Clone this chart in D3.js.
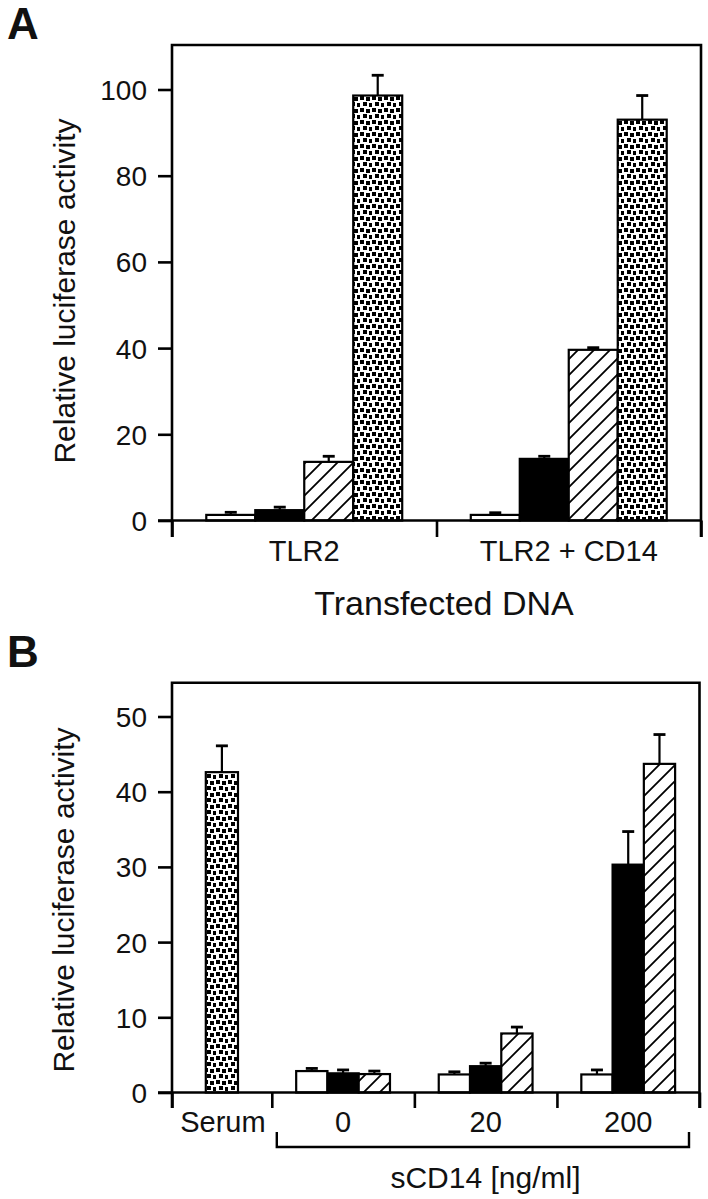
<!DOCTYPE html>
<html>
<head>
<meta charset="utf-8">
<script src="https://cdn.jsdelivr.net/npm/d3@7"></script>
<style>
  html, body { margin: 0; padding: 0; background: #fff; }
  svg { display: block; }
  text { font-family: "Liberation Sans", Arial, Helvetica, sans-serif; fill: #111; }
</style>
</head>
<body>
<script>
// ---------------- DATA ----------------
// Panel A
const groupsA = ["TLR2", "TLR2 + CD14"];
const seriesA = ["white", "black", "hatched", "dotted"];
const valuesA_TLR2 = [1.3, 2.4, 13.6, 98.6];
const errorsA_TLR2 = [0.6, 0.7, 1.3, 4.7];
const valuesA_TLR2CD14 = [1.3, 14.3, 39.6, 93.0];
const errorsA_TLR2CD14 = [0.5, 0.6, 0.5, 5.6];
const ticksA = [0, 20, 40, 60, 80, 100];

// Panel B
const groupsB = ["Serum", "0", "20", "200"];
const seriesB_serum = ["dotted"];
const seriesB_sCD14 = ["white", "black", "hatched"];
const valuesB_serum = [42.6];
const errorsB_serum = [3.5];
const valuesB_0 = [2.85, 2.55, 2.45];
const errorsB_0 = [0.35, 0.45, 0.4];
const valuesB_20 = [2.4, 3.5, 7.85];
const errorsB_20 = [0.35, 0.4, 0.85];
const valuesB_200 = [2.4, 30.3, 43.7];
const errorsB_200 = [0.6, 4.4, 3.9];
const ticksB = [0, 10, 20, 30, 40, 50];

// ---------------- SETUP ----------------
const W = 708, H = 1199;
const svg = d3.select("body").append("svg").attr("width", W).attr("height", H);
const defs = svg.append("defs");

// dotted pattern (staggered small black squares)
const dots = defs.append("pattern").attr("id", "dots")
  .attr("patternUnits", "userSpaceOnUse").attr("width", 12).attr("height", 12);
dots.append("rect").attr("width", 12).attr("height", 12).attr("fill", "#fff");
[[0, 0], [6, 1], [3, 6], [9, 7]].forEach(([x, y]) => {
  dots.append("rect").attr("x", x).attr("y", y).attr("width", 4).attr("height", 4)
    .attr("fill", "#000").attr("shape-rendering", "crispEdges");
});

// hatch pattern "/"
const hatch = defs.append("pattern").attr("id", "hatch")
  .attr("patternUnits", "userSpaceOnUse").attr("width", 16).attr("height", 16);
hatch.append("rect").attr("width", 16).attr("height", 16).attr("fill", "#fff");
hatch.append("path").attr("d", "M-2,2 L2,-2 M0,16 L16,0 M14,18 L18,14")
  .attr("stroke", "#000").attr("stroke-width", 1.8);

const fillFor = {white: "#fff", black: "#000", hatched: "url(#hatch)", dotted: "url(#dots)"};

function drawBars(g, groupName, series, values, errors, xGroupStart, groupWidth, padOuter, y) {
  const inner = d3.scaleBand().domain(series).range([xGroupStart, xGroupStart + groupWidth])
    .paddingInner(0).paddingOuter(padOuter);
  const data = series.map((s, i) => ({s, v: values[i], e: errors[i]}));
  const gg = g.append("g").attr("class", "group-" + groupName);
  gg.selectAll("rect.bar").data(data).join("rect").attr("class", "bar")
    .attr("x", d => inner(d.s)).attr("width", inner.bandwidth())
    .attr("y", d => y(d.v)).attr("height", d => y(0) - y(d.v))
    .attr("fill", d => fillFor[d.s]).attr("stroke", "#000").attr("stroke-width", 2.2);
  const cap = 12;
  gg.selectAll("line.stem").data(data).join("line").attr("class", "stem")
    .attr("x1", d => inner(d.s) + inner.bandwidth() / 2).attr("x2", d => inner(d.s) + inner.bandwidth() / 2)
    .attr("y1", d => y(d.v)).attr("y2", d => y(d.v + d.e))
    .attr("stroke", "#000").attr("stroke-width", 2.2);
  gg.selectAll("line.cap").data(data).join("line").attr("class", "cap")
    .attr("x1", d => inner(d.s) + inner.bandwidth() / 2 - cap / 2).attr("x2", d => inner(d.s) + inner.bandwidth() / 2 + cap / 2)
    .attr("y1", d => y(d.v + d.e)).attr("y2", d => y(d.v + d.e))
    .attr("stroke", "#000").attr("stroke-width", 2.8);
}

function frame(g, left, right, top, base, tickBottom, yTickLeft) {
  g.append("path")
    .attr("d", `M${left},${tickBottom} L${left},${top} L${right},${top} L${right},${tickBottom}`)
    .attr("stroke", "#000").attr("stroke-width", 2.6).attr("fill", "none");
  g.append("line").attr("x1", yTickLeft).attr("x2", right).attr("y1", base).attr("y2", base)
    .attr("stroke", "#000").attr("stroke-width", 2.6);
}

function styleAxis(ax) {
  ax.select(".domain").remove();
  ax.selectAll(".tick line").attr("stroke", "#000").attr("stroke-width", 2.6);
  ax.selectAll(".tick text").style("font-size", "28px").attr("fill", "#111")
    .style("font-family", '"Liberation Sans", Arial, Helvetica, sans-serif');
}

// ---------------- PANEL A ----------------
const gA = svg.append("g");
const A = {left: 172, right: 701, top: 45, tickBottom: 537};
const yA = d3.scaleLinear().domain([0, 100]).range([520.5, 89.5]);
const xA = d3.scaleBand().domain(groupsA).range([A.left, A.right]).padding(0);
const xAbound = d3.scaleLinear().domain([0, groupsA.length]).range([A.left, A.right]);

drawBars(gA, "TLR2", seriesA, valuesA_TLR2, errorsA_TLR2, xA("TLR2"), xA.bandwidth(), 0.7, yA);
drawBars(gA, "TLR2CD14", seriesA, valuesA_TLR2CD14, errorsA_TLR2CD14, xA("TLR2 + CD14"), xA.bandwidth(), 0.7, yA);

frame(gA, A.left, A.right, A.top, yA(0), A.tickBottom, A.left - 14);

const axAy = gA.append("g").attr("transform", `translate(${A.left},0)`)
  .call(d3.axisLeft(yA).tickValues(ticksA).tickSize(14).tickPadding(11).tickFormat(d3.format("d")));
styleAxis(axAy);
axAy.selectAll(".tick text").attr("dy", "0.36em");

const axAx = gA.append("g").attr("transform", `translate(0,${yA(0)})`)
  .call(d3.axisBottom(xAbound).tickValues(d3.range(0, groupsA.length + 1)).tickSize(A.tickBottom - yA(0)).tickFormat(""));
styleAxis(axAx);

gA.selectAll("text.cat").data(groupsA).join("text").attr("class", "cat")
  .attr("x", d => xA(d) + xA.bandwidth() / 2).attr("y", 560.5)
  .attr("text-anchor", "middle").style("font-size", "29px").text(d => d);

gA.append("text").attr("x", 444).attr("y", 615).attr("text-anchor", "middle")
  .style("font-size", "34px").text("Transfected DNA");

gA.append("text").attr("transform", "translate(74.5,291) rotate(-90)").attr("text-anchor", "middle")
  .style("font-size", "30px").text("Relative luciferase activity");

gA.append("text").attr("x", 7).attr("y", 39).style("font-size", "44px").style("font-weight", "bold").text("A");

// ---------------- PANEL B ----------------
const gB = svg.append("g");
const B = {left: 172, right: 699.5, top: 682.7, tickBottom: 1108};
const yB = d3.scaleLinear().domain([0, 50]).range([1092.5, 716.5]);
const groupWeightsB = [0.7, 1, 1, 1];
const cumB = [0]; groupWeightsB.forEach((w, i) => cumB.push(cumB[i] + w));
const xBunits = d3.scaleLinear().domain([0, cumB[cumB.length - 1]]).range([B.left, B.right]);
const gStart = i => xBunits(cumB[i]);
const gWidth = i => xBunits(cumB[i + 1]) - xBunits(cumB[i]);

drawBars(gB, "Serum", seriesB_serum, valuesB_serum, errorsB_serum, gStart(0), gWidth(0), 1.05, yB);
drawBars(gB, "0", seriesB_sCD14, valuesB_0, errorsB_0, gStart(1), gWidth(1), 0.78, yB);
drawBars(gB, "20", seriesB_sCD14, valuesB_20, errorsB_20, gStart(2), gWidth(2), 0.78, yB);
drawBars(gB, "200", seriesB_sCD14, valuesB_200, errorsB_200, gStart(3), gWidth(3), 0.78, yB);

frame(gB, B.left, B.right, B.top, yB(0), B.tickBottom, B.left - 14);

const axBy = gB.append("g").attr("transform", `translate(${B.left},0)`)
  .call(d3.axisLeft(yB).tickValues(ticksB).tickSize(14).tickPadding(11).tickFormat(d3.format("d")));
styleAxis(axBy);
axBy.selectAll(".tick text").attr("dy", "0.36em");

const axBx = gB.append("g").attr("transform", `translate(0,${yB(0)})`)
  .call(d3.axisBottom(xBunits).tickValues(cumB).tickSize(B.tickBottom - yB(0)).tickFormat(""));
styleAxis(axBx);

gB.selectAll("text.cat").data(groupsB).join("text").attr("class", "cat")
  .attr("x", (d, i) => gStart(i) + gWidth(i) / 2 + (i === 0 ? 1 : 0)).attr("y", 1131.5)
  .attr("text-anchor", "middle").style("font-size", "29px").text(d => d);

// bracket under sCD14 groups
gB.append("path")
  .attr("d", `M${gStart(1) + 5},1132 L${gStart(1) + 5},1147 L${B.right - 10.5},1147 L${B.right - 10.5},1132`)
  .attr("fill", "none").attr("stroke", "#000").attr("stroke-width", 2.4);

gB.append("text").attr("x", 485.5).attr("y", 1187.5).attr("text-anchor", "middle")
  .style("font-size", "30px").text("sCD14 [ng/ml]");

gB.append("text").attr("transform", "translate(73.5,900) rotate(-90)").attr("text-anchor", "middle")
  .style("font-size", "30px").text("Relative luciferase activity");

gB.append("text").attr("x", 7).attr("y", 667).style("font-size", "44px").style("font-weight", "bold").text("B");
</script>
</body>
</html>
